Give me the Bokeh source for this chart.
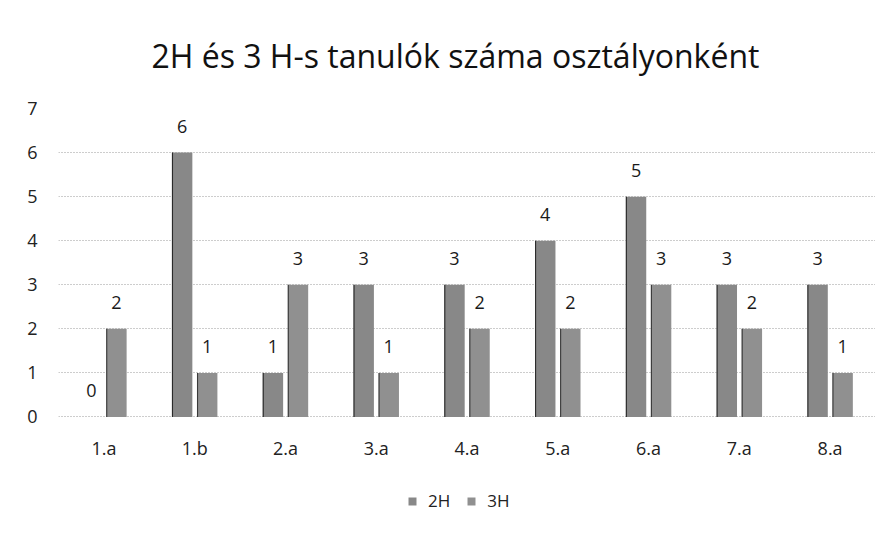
from bokeh.plotting import figure
from bokeh.models import (ColumnDataSource, FactorRange, Range1d, FixedTicker,
                          Legend, LegendItem)
from bokeh.transform import dodge
from bokeh.core.properties import value
from bokeh.embed import file_html
from bokeh.resources import INLINE

categories = ["1.a", "1.b", "2.a", "3.a", "4.a", "5.a", "6.a", "7.a", "8.a"]
h2 = [0, 6, 1, 3, 3, 4, 5, 3, 3]
h3 = [2, 1, 3, 1, 2, 2, 3, 2, 1]
series_names = ["2H", "3H"]
y_ticks = [0, 1, 2, 3, 4, 5, 6, 7]
title_text = "2H és 3 H-s tanulók száma osztályonként"

FONT = "Open Sans"
W, H = 875, 518
TOP, LEFT = 106, 58          # frame top / left in px
ZERO_PX = 416                # pixel row of value 0
Y_MAX = 7
px_per_unit = (ZERO_PX - TOP) / Y_MAX
y_start = -(H - ZERO_PX) / px_per_unit   # frame extends to figure bottom (room for labels + legend)

src = ColumnDataSource(dict(cat=categories, h2=h2, h3=h3,
                            h2s=[str(v) for v in h2], h3s=[str(v) for v in h3],
                            zero=[0] * len(categories)))

p = figure(width=W, height=H, x_range=FactorRange(*categories),
           y_range=Range1d(y_start, Y_MAX), output_backend="svg", toolbar_location=None,
           min_border_left=LEFT, min_border_right=0, min_border_top=TOP,
           min_border_bottom=0, title=title_text)
p.outline_line_color = None
p.background_fill_color = "white"
p.border_fill_color = "white"

p.title.align = "left"
p.title.offset = 93
p.title.text_font = FONT
p.title.text_font_size = "32px"
p.title.text_font_style = "normal"
p.title.text_color = "#111111"
p.title.standoff = 63

off = 0.138
bw = 0.225
r2 = p.vbar(x=dodge("cat", -off, range=p.x_range), top="h2", width=bw, source=src,
            fill_color="#888888", line_color=None)
r3 = p.vbar(x=dodge("cat", off, range=p.x_range), top="h3", width=bw, source=src,
            fill_color="#909090", line_color=None)
# dark left edges of bars
p.vbar(x=dodge("cat", -off - bw / 2 + 0.006, range=p.x_range), top="h2", width=0.012,
       source=src, fill_color="#2a2a2a", line_color=None)
p.vbar(x=dodge("cat", off - bw / 2 + 0.006, range=p.x_range), top="h3", width=0.012,
       source=src, fill_color="#3a3a3a", line_color=None)

# value labels
p.text(x=dodge("cat", -off, range=p.x_range), y="h2", text="h2s", source=src,
       text_align="center", text_baseline="bottom", y_offset=-20,
       text_font=value(FONT), text_font_size="18px", text_color="#1a1a1a")
p.text(x=dodge("cat", off, range=p.x_range), y="h3", text="h3s", source=src,
       text_align="center", text_baseline="bottom", y_offset=-20,
       text_font=value(FONT), text_font_size="18px", text_color="#1a1a1a")

# category labels under the zero line
p.text(x="cat", y="zero", text="cat", source=src, text_align="center",
       text_baseline="middle", y_offset=31,
       text_font=value(FONT), text_font_size="18px", text_color="#222222")

p.xaxis.visible = False
p.xgrid.grid_line_color = None
p.ygrid.grid_line_color = "#9a9a9a"
p.ygrid.grid_line_dash = "1 2"
p.ygrid.grid_line_width = 1
p.yaxis.ticker = FixedTicker(ticks=y_ticks)
p.yaxis.axis_line_color = None
p.yaxis.major_tick_line_color = None
p.yaxis.minor_tick_line_color = None
p.yaxis.major_label_text_font = FONT
p.yaxis.major_label_text_font_size = "18px"
p.yaxis.major_label_text_color = "#222222"
p.yaxis.major_label_standoff = 15
p.x_range.range_padding = 0

legend = Legend(items=[LegendItem(label=series_names[0], renderers=[r2]),
                       LegendItem(label=series_names[1], renderers=[r3])],
                orientation="horizontal", location=(349, 6))
legend.glyph_width = 10
legend.glyph_height = 10
legend.label_text_font = FONT
legend.label_text_font_size = "17px"
legend.label_text_color = "#222222"
legend.label_standoff = 11
legend.spacing = 16
legend.border_line_color = None
legend.background_fill_alpha = 0
legend.margin = 0
legend.padding = 0
p.add_layout(legend, "center")

open("out.html", "w").write(file_html(p, INLINE))
